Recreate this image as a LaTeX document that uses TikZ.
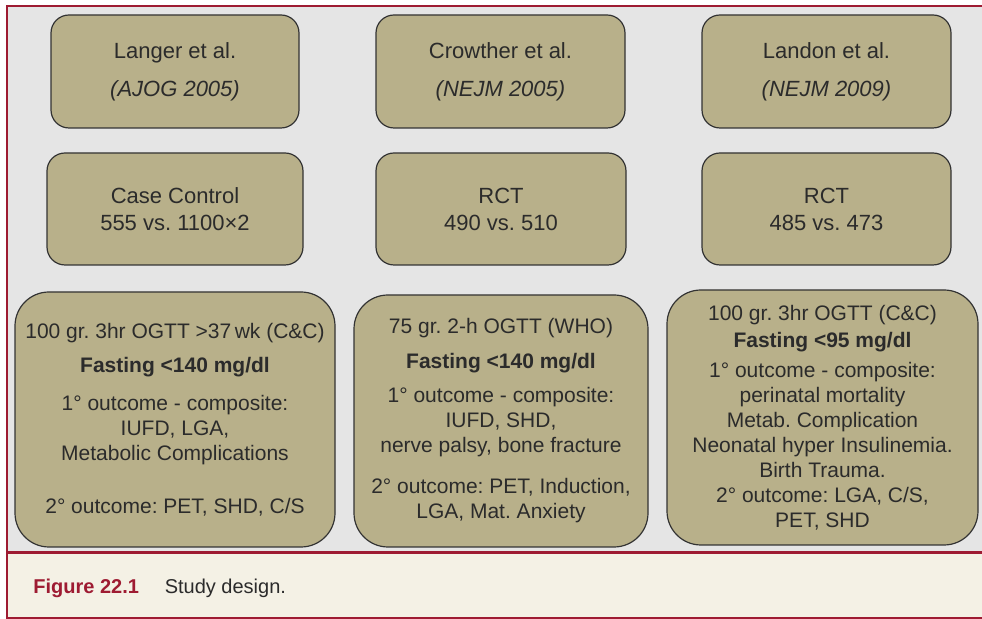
\documentclass[tikz,border=0pt]{standalone}
\usepackage{fontspec}
\setmainfont{Liberation Sans}
\usepackage{tikz}
\usetikzlibrary{positioning}
\frenchspacing
\definecolor{framered}{HTML}{9E1B32}
\definecolor{panelgray}{HTML}{E5E5E5}
\definecolor{captionbg}{HTML}{F4F1E5}
\definecolor{boxkhaki}{HTML}{B8B08A}
\definecolor{inktext}{HTML}{2B2B2B}
\tikzset{
	studybox/.style={draw=black!80, line width=0.6pt, fill=boxkhaki, rounded corners=9pt,
		inner sep=0pt, align=center, text=inktext, font=\fontsize{11}{13.5}\selectfont}
}
\tikzset{
	designbox/.style={studybox, rounded corners=17pt, font=\fontsize{10.5}{12.5}\selectfont}
}
\tikzset{
	captiontext/.style={inner sep=0pt, font=\fontsize{10}{12}\selectfont}
}

\begin{document}
\begin{tikzpicture}[x=0.5pt,y=-0.5pt]
      \useasboundingbox (0,0) rectangle (982,619);
      \fill[panelgray] (7,6) rectangle (982,553);
      \fill[captionbg] (7,553) rectangle (982,618);
      \draw[framered, line width=1.1pt] (982,6) -- (7,6) -- (7,618) -- (982,618);
      \draw[framered, line width=1.5pt] (7,553) -- (982,553);

      \node[studybox, minimum width=124pt, minimum height=56.5pt] (langer) at (175,71.5)
        {Langer et al.\\[5.5pt] \textit{(AJOG 2005)}};
      \node[studybox, minimum width=124.5pt, minimum height=56.5pt] (crowther) at (500.5,71.5)
        {Crowther et al.\\[5.5pt] \textit{(NEJM 2005)}};
      \node[studybox, minimum width=124.5pt, minimum height=56.5pt] (landon) at (826.5,71.5)
        {Landon et al.\\[5.5pt] \textit{(NEJM 2009)}};

      \node[studybox, minimum width=128pt, minimum height=56pt] (langerdes) at (175,209)
        {Case Control\\555 vs. 1100×2};
      \node[studybox, minimum width=125pt, minimum height=56pt] (crowtherdes) at (501,209)
        {RCT\\490 vs. 510};
      \node[studybox, minimum width=124.5pt, minimum height=56pt] (landondes) at (826.5,209)
        {RCT\\485 vs. 473};

      \node[designbox, minimum width=160pt, minimum height=127.5pt] (langerout) at (175,419.5)
        {100 gr. 3hr OGTT >37\,wk (C\&C)\\[4.5pt]
         \textbf{Fasting <140 mg/dl}\\[6.5pt]
         1° outcome - composite:\\
         IUFD, LGA,\\
         Metabolic Complications\\[14pt]
         2° outcome: PET, SHD, C/S};
      \node[designbox, minimum width=147pt, minimum height=126pt] (crowtherout) at (501,421)
        {75 gr. 2-h OGTT (WHO)\\[5pt]
         \textbf{Fasting <140 mg/dl}\\[4.5pt]
         1° outcome - composite:\\
         IUFD, SHD,\\
         nerve palsy, bone fracture\\[8pt]
         2° outcome: PET, Induction,\\
         LGA, Mat. Anxiety};
      \node[designbox, minimum width=155.5pt, minimum height=127.5pt] (landonout) at (822.5,417.5)
        {100 gr. 3hr OGTT (C\&C)\\[1pt]
         \textbf{Fasting <95 mg/dl}\\[2.5pt]
         1° outcome - composite:\\
         perinatal mortality\\
         Metab. Complication\\
         Neonatal hyper Insulinemia.\\
         Birth Trauma.\\
         2° outcome: LGA, C/S,\\
         PET, SHD};

      \node[captiontext, anchor=base west, text=framered, font=\fontsize{10}{12}\selectfont\bfseries] (figlabel) at (33,594) {Figure 22.1};
      \node[captiontext, right=12.5pt of figlabel.base east, anchor=base west, text=inktext] (figtitle) {Study design.};
\end{tikzpicture}
\end{document}
